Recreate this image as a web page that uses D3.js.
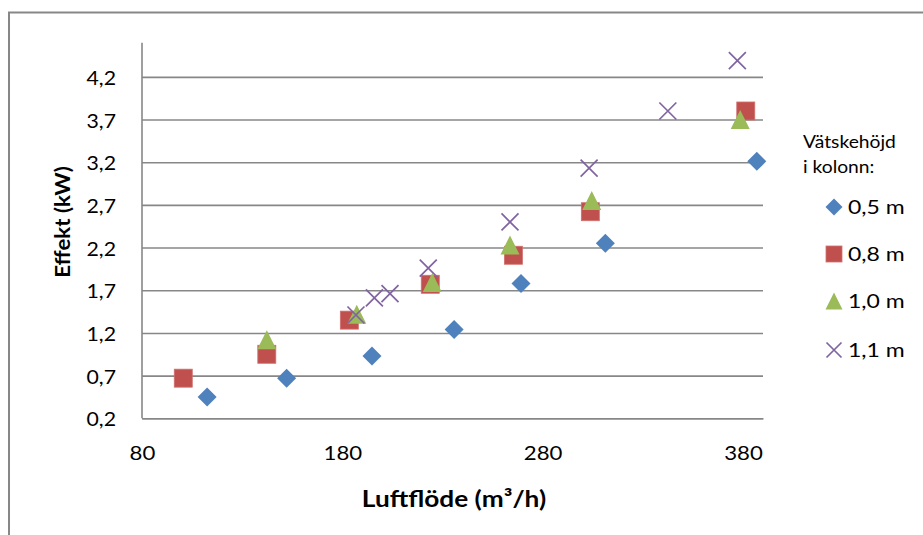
<!DOCTYPE html>
<html>
<head>
<meta charset="utf-8">
<script src="https://cdn.jsdelivr.net/npm/d3@7"></script>
<style>
  html, body { margin: 0; padding: 0; background: #fff; }
  svg { display: block; }
  text { font-family: Lato, "Open Sans", sans-serif; fill: #000; }
</style>
</head>
<body>
<svg id="chart" width="923" height="535"></svg>
<script>
// ---- data ----
const xTicks = [80, 180, 280, 380];
const yTicks = [0.2, 0.7, 1.2, 1.7, 2.2, 2.7, 3.2, 3.7, 4.2];
const xDomain = [80, 390];
const yDomain = [0.2, 4.6];

const seriesNames = ["0,5 m", "0,8 m", "1,0 m", "1,1 m"];
const flow05  = [112.5, 152.2, 194.8, 235.8, 269.2, 311.3, 386.9];
const power05 = [0.45, 0.67, 0.93, 1.24, 1.78, 2.25, 3.21];
const flow08  = [100.6, 142.3, 183.5, 223.9, 265.4, 303.8, 381.4];
const power08 = [0.67, 0.95, 1.35, 1.77, 2.11, 2.62, 3.80];
const flow10  = [142.3, 187.2, 224.9, 263.7, 304.5, 378.6];
const power10 = [1.12, 1.42, 1.79, 2.23, 2.75, 3.70];
const flow11  = [186.8, 196.0, 203.8, 222.9, 263.7, 303.2, 342.5, 377.2];
const power11 = [1.41, 1.61, 1.66, 1.96, 2.50, 3.13, 3.80, 4.39];

const xTitle = "Luftflöde (m³/h)";
const yTitle = "Effekt (kW)";
const legendTitle = ["Vätskehöjd", "i kolonn:"];

// ---- layout ----
const svg = d3.select("#chart");
const pL = 142, pR = 763, pT = 42.7, pB = 418.3;
const gray = "#878787";
const colors = ["#4F81BD", "#C0504D", "#9BBB59", "#8064A2"];
const shapes = ["diamond", "square", "triangle", "cross"];

svg.append("rect").attr("width", 923).attr("height", 535).attr("fill", "#fff");
svg.append("rect").attr("x", 9).attr("y", 12.5).attr("width", 1000).attr("height", 1000)
  .attr("fill", "none").attr("stroke", gray).attr("stroke-width", 2);

const x = d3.scaleLinear().domain(xDomain).range([pL, pR]);
const y = d3.scaleLinear().domain(yDomain).range([pB, pT]);

const commaFmt = v => d3.format(".1f")(v).replace(".", ",");

// text helper: font size + horizontal stretch
function label(parent, str, tx, ty, size, sx, anchor, weight, rot) {
  return parent.append("text")
    .attr("transform", `translate(${tx},${ty})` + (rot ? ` rotate(${rot})` : "") + ` scale(${sx},1)`)
    .attr("text-anchor", anchor || "start")
    .attr("font-size", size)
    .attr("font-weight", weight || "normal")
    .text(str);
}

// gridlines via axis
const yAxis = svg.append("g").attr("transform", `translate(${pL},0)`)
  .call(d3.axisLeft(y).tickValues(yTicks).tickSize(-(pR - pL)).tickFormat(""));
yAxis.select(".domain").remove();
yAxis.selectAll(".tick line").attr("stroke", gray).attr("stroke-width", 1.6);
yAxis.selectAll(".tick text").remove();
// y tick labels
yAxis.selectAll(".tick").each(function(d) {
  label(d3.select(this), commaFmt(d), -26, 7.5, 18.5, 1.15, "end");
});

// y axis line
svg.append("line").attr("x1", pL).attr("x2", pL).attr("y1", y(yDomain[1])).attr("y2", y(yDomain[0]))
  .attr("stroke", gray).attr("stroke-width", 1.6);

// x axis
const xAxis = svg.append("g").attr("transform", `translate(0,${pB})`)
  .call(d3.axisBottom(x).tickValues(xTicks).tickSize(0).tickFormat(""));
xAxis.select(".domain").attr("stroke", gray).attr("stroke-width", 1.6);
xAxis.selectAll(".tick text").remove();
xAxis.selectAll(".tick").each(function(d) {
  label(d3.select(this), d3.format("d")(d), 0, 42, 19, 1.17, "middle");
});

// axis titles
label(svg, xTitle, 454, 507, 23, 1.14, "middle", "bold");
label(svg, yTitle, 70, 222, 21, 1.06, "middle", "bold", -90);

// marker drawing
function drawMarker(g, shape, color, cx, cy, s) {
  if (shape === "diamond") {
    const h = s / 2;
    g.append("path").attr("d", `M${cx},${cy - h}L${cx + h},${cy}L${cx},${cy + h}L${cx - h},${cy}Z`)
      .attr("fill", color);
  } else if (shape === "square") {
    const h = s / 2 - 0.5;
    g.append("rect").attr("x", cx - h).attr("y", cy - h).attr("width", 2 * h).attr("height", 2 * h)
      .attr("fill", color).attr("stroke", "#d0706e").attr("stroke-width", 0.8);
  } else if (shape === "triangle") {
    const h = s / 2;
    g.append("path").attr("d", `M${cx},${cy - h}L${cx + h},${cy + h}L${cx - h},${cy + h}Z`)
      .attr("fill", color);
  } else {
    const h = s / 2 - 1;
    g.append("path").attr("d", `M${cx - h},${cy - h}L${cx + h},${cy + h}M${cx - h},${cy + h}L${cx + h},${cy - h}`)
      .attr("stroke", color).attr("stroke-width", 1.7).attr("fill", "none");
  }
}

const series = [
  [flow05, power05], [flow08, power08], [flow10, power10], [flow11, power11]
];
series.forEach((s, i) => {
  const g = svg.append("g");
  s[0].forEach((fx, j) => drawMarker(g, shapes[i], colors[i], x(fx), y(s[1][j]), 19));
});

// legend
label(svg, legendTitle[0], 803, 148, 17.5, 1.1);
label(svg, legendTitle[1], 803, 173, 17.5, 1.1);
const legY = [207, 254, 301, 350];
seriesNames.forEach((name, i) => {
  const g = svg.append("g");
  drawMarker(g, shapes[i], colors[i], 834, legY[i], 17);
  label(g, name, 848, legY[i] + 7, 19.5, 1.18);
});
</script>
</body>
</html>
